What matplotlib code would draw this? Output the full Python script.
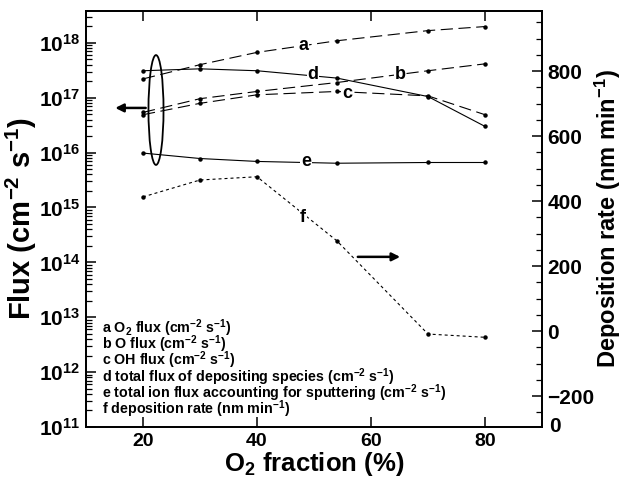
import matplotlib
matplotlib.use("Agg")
import matplotlib.pyplot as plt
import numpy as np
from matplotlib.patches import Ellipse
from matplotlib.ticker import FixedLocator, FuncFormatter, LogLocator, MultipleLocator, NullFormatter

plt.rcParams['font.family'] = ['Liberation Sans', 'DejaVu Sans']
plt.rcParams['font.weight'] = 'bold'
plt.rcParams['mathtext.fontset'] = 'custom'
plt.rcParams['mathtext.rm'] = 'Liberation Sans:bold'
plt.rcParams['mathtext.bf'] = 'Liberation Sans:bold'
plt.rcParams['mathtext.it'] = 'Liberation Sans:bold'
plt.rcParams['mathtext.sf'] = 'Liberation Sans:bold'

# ---- data ----
o2_fraction = [20, 30, 40, 54, 70, 80]
flux_o2 = [2.2e17, 4.0e17, 6.7e17, 1.09e18, 1.67e18, 1.98e18]          # a
flux_o = [5.4e16, 9.6e16, 1.3e17, 1.89e17, 3.1e17, 4.14e17]            # b
flux_oh = [4.9e16, 7.9e16, 1.13e17, 1.3e17, 1.08e17, 4.9e16]           # c
flux_dep = [3.1e17, 3.36e17, 3.1e17, 2.28e17, 1.05e17, 3.0e16]         # d
flux_ion = [9.8e15, 7.8e15, 6.9e15, 6.4e15, 6.6e15, 6.6e15]            # e
dep_rate = [413, 465, 475, 278, -9, -19]                                # f

legend_lines = [
    r"a O$_2$ flux (cm$^{-2}$ s$^{-1}$)",
    r"b O flux (cm$^{-2}$ s$^{-1}$)",
    r"c OH flux (cm$^{-2}$ s$^{-1}$)",
    r"d total flux of depositing species (cm$^{-2}$ s$^{-1}$)",
    r"e total ion flux accounting for sputtering (cm$^{-2}$ s$^{-1}$)",
    r"f deposition rate (nm min$^{-1}$)",
]
x_ticks = [20, 40, 60, 80]
right_ticks = [-200, 0, 200, 400, 600, 800]

fig = plt.figure(figsize=(6.21, 4.83), dpi=100)
ax = fig.add_axes([86/621, 1-427/483, 456/621, 416/483])
ax2 = ax.twinx()

lw = 0.8
long_dash = (0, (11, 5))
ms = 2.2
ax.plot(o2_fraction, flux_o2, color='black', lw=lw, ls=long_dash, marker='o', ms=ms)
ax.plot(o2_fraction, flux_o, color='black', lw=lw, ls=long_dash, marker='o', ms=ms)
ax.plot(o2_fraction, flux_oh, color='black', lw=lw, ls=long_dash, marker='o', ms=ms)
ax.plot(o2_fraction, flux_dep, color='black', lw=lw, ls='-', marker='o', ms=ms)
ax.plot(o2_fraction, flux_ion, color='black', lw=lw, ls='-', marker='o', ms=ms)
ax2.plot(o2_fraction, dep_rate, color='black', lw=lw, ls=(0, (2.7, 2.7)), marker='o', ms=ms)

ax.set_yscale('log')
ax.set_xlim(10, 90)
ax.set_ylim(1e11, 10**18.58)
ax2.set_ylim(-295, 985)

# ticks
ax.set_xticks(x_ticks)
ax.xaxis.set_major_formatter(FuncFormatter(lambda v, p: f"{int(v)}"))
ax.yaxis.set_major_locator(LogLocator(base=10, numticks=20))
ax.yaxis.set_minor_locator(LogLocator(base=10, subs=np.arange(2, 10), numticks=20))
ax.yaxis.set_minor_formatter(NullFormatter())
ax.yaxis.set_major_formatter(FuncFormatter(lambda v, p: r"$\mathbf{10^{%d}}$" % round(np.log10(v))))
ax.tick_params(axis='both', which='major', direction='in', length=7, width=1.1, labelsize=14)
ax.tick_params(axis='y', which='major', labelsize=15, pad=4)
ax.tick_params(axis='y', which='minor', direction='in', length=4.5, width=0.9)
ax.tick_params(axis='x', top=True, which='major')
ax.tick_params(axis='x', pad=4)

ax2.yaxis.set_major_locator(FixedLocator(right_ticks))
ax2.yaxis.set_minor_locator(MultipleLocator(50))
ax2.tick_params(axis='y', which='major', direction='in', length=7, width=1.1, labelsize=15, pad=4)
ax2.tick_params(axis='y', which='minor', direction='in', length=4.5, width=0.9)

for a in (ax, ax2):
    for s in a.spines.values():
        s.set_linewidth(1.3)

ax.set_xlabel(r"O$_2$ fraction (%)", fontsize=18.5, fontweight='bold', labelpad=0)
ax.set_ylabel(r"Flux (cm$^{-2}$ s$^{-1}$)", fontsize=21, fontweight='bold', labelpad=0)
ax2.set_ylabel(r"Deposition rate (nm min$^{-1}$)", fontsize=17, fontweight='bold', labelpad=-1)

# extra '0' at the bottom of the right axis
ax2.text(1.015, 0.0, "0", transform=ax2.transAxes, fontsize=15, fontweight='bold',
         ha='left', va='center')

# curve labels
bb = dict(facecolor='white', edgecolor='none', pad=0.5)
fs_lab = 13
ax.text(48.1, 8.8e17, "a", fontsize=fs_lab, fontweight='bold', ha='center', va='center', bbox=bb)
ax.text(49.8, 2.7e17, "d", fontsize=fs_lab, fontweight='bold', ha='center', va='center', bbox=bb)
ax.text(65.1, 2.7e17, "b", fontsize=fs_lab, fontweight='bold', ha='center', va='center', bbox=bb)
ax.text(55.8, 1.17e17, "c", fontsize=fs_lab, fontweight='bold', ha='center', va='center', bbox=bb)
ax.text(48.6, 6.8e15, "e", fontsize=fs_lab, fontweight='bold', ha='center', va='center', bbox=bb)
ax2.text(48.1, 351, "f", fontsize=fs_lab, fontweight='bold', ha='center', va='center', bbox=bb)

# legend text block
ys = [0.238, 0.199, 0.160, 0.120, 0.082, 0.043]
for t, yy in zip(legend_lines, ys):
    ax.text(0.035, yy, t, transform=ax.transAxes, fontsize=10.3, fontweight='bold',
            ha='left', va='center')

# ellipse and arrows
ell = Ellipse((0.1535, 0.762), 0.033, 0.264, transform=ax.transAxes,
              facecolor='none', edgecolor='black', lw=1.3, zorder=5)
ax.add_patch(ell)
ax.annotate("", xy=(0.058, 0.767), xytext=(0.137, 0.767), xycoords='axes fraction',
            arrowprops=dict(arrowstyle='-|>', lw=1.8, color='black', mutation_scale=12))
ax.annotate("", xy=(0.695, 0.409), xytext=(0.590, 0.409), xycoords='axes fraction',
            arrowprops=dict(arrowstyle='-|>', lw=1.8, color='black', mutation_scale=12))

fig.savefig("out.png", dpi=100)
